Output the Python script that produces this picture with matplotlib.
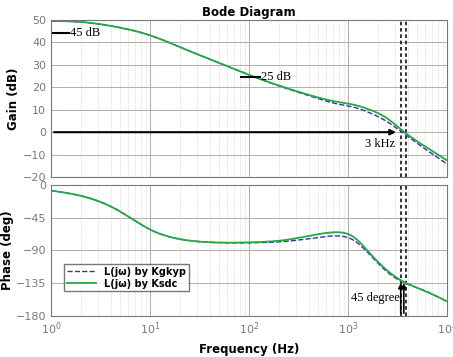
import numpy as np
import matplotlib
matplotlib.use("Agg")
import matplotlib.pyplot as plt

# frequency points (log10 Hz)
logf = [0.0, 0.33, 0.67, 1.01, 1.35, 1.69, 2.03, 2.37, 2.71, 2.88, 3.05, 3.22, 3.39, 3.56, 3.73, 4.0]

gain_ksdc = [49.6, 49.0, 46.8, 43.0, 37.0, 31.0, 25.0, 19.8, 15.3, 13.6, 12.3, 10.0, 6.3, 0.3, -5.0, -12.6]
gain_kgkyp = [49.6, 49.0, 46.8, 43.0, 37.0, 31.0, 25.0, 19.6, 14.8, 12.7, 11.2, 8.6, 4.8, -0.5, -6.0, -14.2]

phase_ksdc = [-7.8, -16, -34.5, -62, -75.6, -79.2, -78.8, -75.6, -67.4, -65, -71, -94, -117, -133, -143, -160]
phase_kgkyp = [-7.8, -16, -34.5, -62, -75.6, -79.2, -79.5, -77.5, -72, -70, -75.6, -96, -119, -134, -143, -160]

cross_freqs = [3400, 3800]
gain_ticks = [-20, -10, 0, 10, 20, 30, 40, 50]
phase_ticks = [0, -45, -90, -135, -180]

fine = np.logspace(0, 4, 500)

def smooth(y):
    # natural cubic spline through the read points, in log-frequency
    x = np.array(logf)
    y = np.array(y, dtype=float)
    n = len(x)
    h = np.diff(x)
    A = np.zeros((n, n))
    b = np.zeros(n)
    A[0, 0] = A[-1, -1] = 1
    for i in range(1, n - 1):
        A[i, i - 1] = h[i - 1]
        A[i, i] = 2 * (h[i - 1] + h[i])
        A[i, i + 1] = h[i]
        b[i] = 3 * ((y[i + 1] - y[i]) / h[i] - (y[i] - y[i - 1]) / h[i - 1])
    c = np.linalg.solve(A, b)
    xs = np.log10(fine)
    k = np.clip(np.searchsorted(x, xs) - 1, 0, n - 2)
    dx = xs - x[k]
    bb = (y[k + 1] - y[k]) / h[k] - h[k] * (2 * c[k] + c[k + 1]) / 3
    d = (c[k + 1] - c[k]) / (3 * h[k])
    return y[k] + bb * dx + c[k] * dx ** 2 + d * dx ** 3

fig = plt.figure(figsize=(4.53, 3.57), dpi=100)
ax1 = fig.add_axes([0.113, 0.504, 0.874, 0.44])
ax2 = fig.add_axes([0.113, 0.115, 0.874, 0.367])

green = "#22aa44"
blue = "#3333aa"
tick_col = "#777777"

for ax in (ax1, ax2):
    ax.set_xscale("log")
    ax.set_xlim(1, 1e4)
    ax.grid(True, which="major", color="#b8aaa8", lw=0.7)
    ax.grid(True, which="minor", color="#c8bcbc", lw=0.5, ls=":")
    ax.tick_params(which="both", length=0, colors=tick_col, labelsize=8)
    for s in ax.spines.values():
        s.set_color("#777777")
    for fc in cross_freqs:
        ax.axvline(fc, color="#222222", ls="--", lw=1.3, dashes=(2, 1.5))

# gain
ax1.plot(fine, smooth(gain_kgkyp), color=blue, ls="--", lw=1.0)
ax1.plot(fine, smooth(gain_ksdc), color=green, lw=1.3)
ax1.set_ylim(-20, 50)
ax1.set_yticks(gain_ticks)
ax1.set_xticklabels([])
ax1.set_ylabel("Gain (dB)", fontsize=8.5, fontweight="bold", labelpad=2)
ax1.set_title("Bode Diagram", fontsize=8.5, fontweight="bold", pad=3)

ax1.plot([1, 1.5], [44.3, 44.3], color="black", lw=1.5)
ax1.text(1.55, 44.3, "45 dB", family="Liberation Serif", fontsize=9, va="center")
ax1.plot([82, 130], [24.6, 24.6], color="black", lw=1.5)
ax1.text(133, 24.6, "25 dB", family="Liberation Serif", fontsize=9, va="center")
ax1.annotate("", xy=(3250, 0), xytext=(1, 0),
             arrowprops=dict(arrowstyle="-|>", color="black", lw=1.5, mutation_scale=8))
ax1.text(3000, -2.5, "3 kHz", family="Liberation Serif", fontsize=9, ha="right", va="top")

# phase
ax2.plot(fine, smooth(phase_kgkyp), color=blue, ls="--", lw=1.0, label="L(j\u03c9) by Kgkyp")
ax2.plot(fine, smooth(phase_ksdc), color=green, lw=1.3, label="L(j\u03c9) by Ksdc")
ax2.set_ylim(-180, 0)
ax2.set_yticks(phase_ticks)
ax2.set_ylabel("Phase (deg)", fontsize=8.5, fontweight="bold", labelpad=1)
ax2.set_xlabel("Frequency (Hz)", fontsize=8.5, fontweight="bold")
for fc in [3400, 3650]:
    ax2.annotate("", xy=(fc, -131), xytext=(fc, -180),
                 arrowprops=dict(arrowstyle="-|>", color="black", lw=1.2, mutation_scale=7))
ax2.text(3300, -155, "45 degree", family="Liberation Serif", fontsize=9, ha="right", va="center")
leg = ax2.legend(loc="lower left", bbox_to_anchor=(0.02, 0.15), fontsize=7, frameon=True,
                 fancybox=False, edgecolor="#555555", borderpad=0.3, handlelength=3.0, labelspacing=0.2)
for t in leg.get_texts():
    t.set_fontweight("bold")

fig.savefig("out.png", dpi=100)
